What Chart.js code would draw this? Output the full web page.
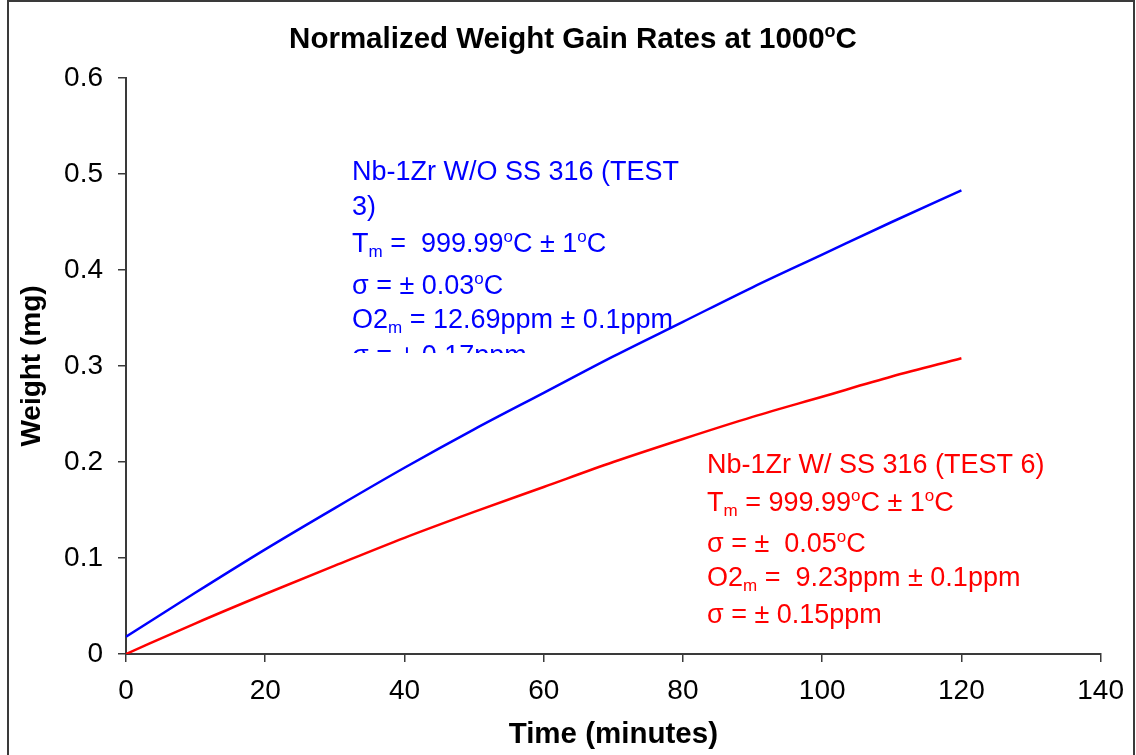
<!DOCTYPE html>
<html>
<head>
<meta charset="utf-8">
<script src="https://cdn.jsdelivr.net/npm/chart.js@4.4.0/dist/chart.umd.min.js"></script>
<style>
    html, body { margin: 0; padding: 0; background: #fff; }
    #wrap { width: 1136px; height: 755px; }
</style>
</head>
<body>
<div id="wrap"><canvas id="gain_chart" width="1136" height="755"></canvas></div>
<script>
// time in minutes, weight gain in mg
var timeValues = [0, 10, 20, 30, 40, 50, 60, 70, 80, 90, 100, 110, 120];
var weightWithout = [0.018, 0.064, 0.109, 0.152, 0.194, 0.234, 0.272, 0.310, 0.346, 0.382, 0.416, 0.450, 0.483];
var weightWith = [0.0, 0.032, 0.0625, 0.092, 0.121, 0.148, 0.174, 0.200, 0.224, 0.247, 0.268, 0.289, 0.308];
var xTicks = [0, 20, 40, 60, 80, 100, 120, 140];
var yTicks = [0, 0.1, 0.2, 0.3, 0.4, 0.5, 0.6];

var fontName = "'Liberation Sans', Arial, sans-serif";

// text pieces: [text, "n" | "sup" | "sub"]
var titleParts = [["Normalized Weight Gain Rates at 1000", "n"], ["o", "sup"], ["C", "n"]];
var noteWithout = [
    [["Nb-1Zr W/O SS 316 (TEST", "n"]],
    [["3)", "n"]],
    [["T", "n"], ["m", "sub"], [" =  999.99", "n"], ["o", "sup"], ["C \u00b1 1", "n"], ["o", "sup"], ["C", "n"]],
    [["\u03c3 = \u00b1 0.03", "n"], ["o", "sup"], ["C", "n"]],
    [["O2", "n"], ["m", "sub"], [" = 12.69ppm \u00b1 0.1ppm", "n"]],
    [["\u03c3 = \u00b1 0.17ppm", "n"]]
];
var noteWith = [
    [["Nb-1Zr W/ SS 316 (TEST 6)", "n"]],
    [["T", "n"], ["m", "sub"], [" = 999.99", "n"], ["o", "sup"], ["C \u00b1 1", "n"], ["o", "sup"], ["C", "n"]],
    [["\u03c3 = \u00b1  0.05", "n"], ["o", "sup"], ["C", "n"]],
    [["O2", "n"], ["m", "sub"], [" =  9.23ppm \u00b1 0.1ppm", "n"]],
    [["\u03c3 = \u00b1 0.15ppm", "n"]]
];

function toPoints(xs, ys) {
    return xs.map(function(x, i) { return { x: x, y: ys[i] }; });
}

function drawRich(ctx, x, y, parts, size, weight, color, align) {
    var small = Math.round(size * 0.62);
    var total = 0;
    parts.forEach(function(p) {
        ctx.font = weight + " " + (p[1] === "n" ? size : small) + "px " + fontName;
        total += ctx.measureText(p[0]).width;
    });
    var cx = align === "center" ? x - total / 2 : x;
    ctx.fillStyle = color;
    ctx.textAlign = "left";
    ctx.textBaseline = "alphabetic";
    parts.forEach(function(p) {
        var dy = 0;
        if (p[1] === "sup") dy = -size * 0.38;
        if (p[1] === "sub") dy = size * 0.17;
        ctx.font = weight + " " + (p[1] === "n" ? size : small) + "px " + fontName;
        ctx.fillText(p[0], cx, y + dy);
        cx += ctx.measureText(p[0]).width;
    });
}

var notesPlugin = {
    id: "notes",
    afterDraw: function(chart) {
        var ctx = chart.ctx;
        ctx.save();
        // chart frame
        ctx.strokeStyle = "#3a3a3a";
        ctx.lineWidth = 2;
        ctx.beginPath();
        ctx.moveTo(8, 755);
        ctx.lineTo(8, 1);
        ctx.lineTo(1134, 1);
        ctx.lineTo(1134, 755);
        ctx.stroke();

        drawRich(ctx, 573, 48, titleParts, 29.5, "bold", "#000", "center");

        var blueY = [180, 215, 252, 294, 328, 364];
        ctx.save();
        ctx.beginPath();
        ctx.rect(340, 140, 400, 213);
        ctx.clip();
        noteWithout.forEach(function(line, i) {
            drawRich(ctx, 352, blueY[i], line, 27, "normal", "#0000ff", "left");
        });
        ctx.restore();

        var redY = [473, 511, 552, 586, 623];
        noteWith.forEach(function(line, i) {
            drawRich(ctx, 707, redY[i], line, 27, "normal", "#ff0000", "left");
        });
        ctx.restore();
    }
};

new Chart("gain_chart", {
    type: "line",
    data: {
        datasets: [{
                label: "Nb-1Zr W/O SS 316 (TEST 3)",
                data: toPoints(timeValues, weightWithout),
                borderColor: "#0000ff",
                backgroundColor: "#0000ff",
                borderWidth: 2.5,
                pointRadius: 0,
                cubicInterpolationMode: "monotone",
                fill: false,
            },
            {
                label: "Nb-1Zr W/ SS 316 (TEST 6)",
                data: toPoints(timeValues, weightWith),
                borderColor: "#ff0000",
                backgroundColor: "#ff0000",
                borderWidth: 2.5,
                pointRadius: 0,
                cubicInterpolationMode: "monotone",
                fill: false,
            }
        ]
    },
    options: {
        responsive: false,
        animation: false,
        devicePixelRatio: 1,
        layout: {
            padding: { top: 78, right: 33, left: 0, bottom: 0 }
        },
        plugins: {
            legend: { display: false },
            tooltip: { enabled: false }
        },
        scales: {
            x: {
                type: "linear",
                min: xTicks[0],
                max: xTicks[xTicks.length - 1],
                afterFit: function(scale) { scale.height = 101; },
                afterBuildTicks: function(scale) {
                    scale.ticks = xTicks.map(function(v) { return { value: v }; });
                },
                grid: { drawOnChartArea: false, drawTicks: true, tickLength: 8, color: "#3a3a3a", lineWidth: 1.5 },
                border: { display: true, color: "#3a3a3a", width: 2 },
                ticks: { color: "#000", padding: 12, maxRotation: 0, font: { family: fontName, size: 28 } },
                title: {
                    display: true,
                    text: "Time (minutes)",
                    color: "#000",
                    padding: { top: 4, bottom: 2 },
                    font: { family: fontName, size: 29.5, weight: "bold" }
                }
            },
            y: {
                min: yTicks[0],
                max: yTicks[yTicks.length - 1],
                afterFit: function(scale) { scale.width = 126; },
                afterBuildTicks: function(scale) {
                    scale.ticks = yTicks.map(function(v) { return { value: v }; });
                },
                grid: { drawOnChartArea: false, drawTicks: true, tickLength: 8, color: "#3a3a3a", lineWidth: 1.5 },
                border: { display: true, color: "#3a3a3a", width: 2 },
                ticks: { color: "#000", padding: 15, font: { family: fontName, size: 28 } },
                title: {
                    display: true,
                    text: "Weight (mg)",
                    color: "#000",
                    padding: { top: 15, bottom: 4 },
                    font: { family: fontName, size: 28, weight: "bold" }
                }
            }
        }
    },
    plugins: [notesPlugin]
});
</script>
</body>
</html>
